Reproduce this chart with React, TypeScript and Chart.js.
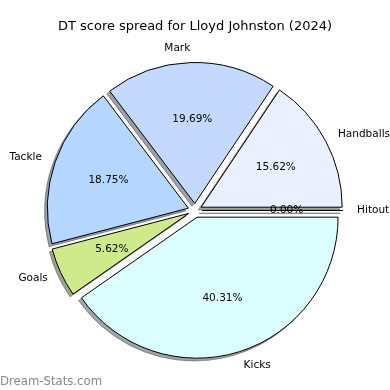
import React, { useEffect, useRef } from "react";
import { Chart, registerables } from "chart.js";

Chart.register(...registerables);

const TITLE = "DT score spread for Lloyd Johnston (2024)";
const WATERMARK = "Dream-Stats.com";
// counter-clockwise order starting at 3 o'clock (as in the picture)
const categories = ["Handballs", "Mark", "Tackle", "Goals", "Kicks", "Hitout"];
const dtPoints = [50, 63, 60, 18, 129, 0];
const sliceColors = ["#EAF0FF", "#C5D9FF", "#B4D6FF", "#CFEA8A", "#DBFFFF", "#FFE4C4"];

const FONT = '"DejaVu Sans", Verdana, sans-serif';
const EXPLODE = 7;
const SHADOW = 2.8;

function pctText(v: number, total: number): string {
  const x = (v / total) * 10000;
  const f = Math.floor(x + 1e-9);
  const diff = x - f;
  let r: number;
  if (Math.abs(diff - 0.5) < 1e-7) r = f % 2 === 0 ? f : f + 1;
  else r = Math.round(x);
  return (r / 100).toFixed(2) + "%";
}

function shadowColor(hex: string): string {
  const h = hex.replace("#", "");
  const r = parseInt(h.slice(0, 2), 16);
  const g = parseInt(h.slice(2, 4), 16);
  const b = parseInt(h.slice(4, 6), 16);
  return `rgba(${Math.round(r * 0.3)},${Math.round(g * 0.3)},${Math.round(b * 0.3)},0.5)`;
}

function geometry(chart: any) {
  const meta = chart.getDatasetMeta(0);
  return meta.data.map((arc: any) => {
    const p = arc.getProps(["x", "y", "startAngle", "endAngle", "outerRadius", "circumference"], true);
    const mid = (p.startAngle + p.endAngle) / 2;
    return { arc, ...p, mid, dx: Math.cos(mid) * EXPLODE, dy: Math.sin(mid) * EXPLODE };
  });
}

const pieDecor = {
  id: "pieDecor",
  beforeDatasetsDraw(chart: any) {
    const ctx = chart.ctx as CanvasRenderingContext2D;
    const ds = chart.data.datasets[0];
    const geo = geometry(chart);
    // shadows
    geo.forEach((g: any, i: number) => {
      const col = shadowColor(ds.backgroundColor[i]);
      ctx.save();
      ctx.translate(g.dx - SHADOW, g.dy + SHADOW);
      ctx.beginPath();
      ctx.moveTo(g.x, g.y);
      ctx.arc(g.x, g.y, g.outerRadius, g.startAngle, g.endAngle);
      ctx.closePath();
      ctx.fillStyle = col;
      ctx.fill();
      ctx.strokeStyle = col;
      ctx.lineWidth = 1;
      ctx.stroke();
      ctx.restore();
    });
    // wedges
    geo.forEach((g: any) => {
      ctx.save();
      ctx.translate(g.dx, g.dy);
      if (g.circumference > 0) {
        g.arc.draw(ctx);
      } else {
        ctx.beginPath();
        ctx.moveTo(g.x, g.y);
        ctx.lineTo(g.x + Math.cos(g.startAngle) * g.outerRadius, g.y + Math.sin(g.startAngle) * g.outerRadius);
        ctx.strokeStyle = "#000";
        ctx.lineWidth = 1;
        ctx.stroke();
      }
      ctx.restore();
    });
    return false;
  },
  afterDraw(chart: any) {
    const ctx = chart.ctx as CanvasRenderingContext2D;
    const ds = chart.data.datasets[0];
    const labels = chart.data.labels;
    const total = ds.data.reduce((a: number, b: number) => a + b, 0);
    const geo = geometry(chart);
    ctx.save();
    ctx.fillStyle = "#000";
    ctx.textBaseline = "alphabetic";
    ctx.font = `10.5px ${FONT}`;
    geo.forEach((g: any, i: number) => {
      const c = Math.cos(g.mid);
      const s = Math.sin(g.mid);
      const vx = g.x + g.dx;
      const vy = g.y + g.dy;
      const lx = vx + 1.1 * g.outerRadius * c;
      const ly = vy + 1.1 * g.outerRadius * s;
      ctx.textAlign = c > 1e-9 ? "left" : "right";
      ctx.fillText(labels[i], lx, ly + 2.8);
      const px = vx + 0.6 * g.outerRadius * c;
      const py = vy + 0.6 * g.outerRadius * s;
      ctx.textAlign = "center";
      ctx.fillText(pctText(ds.data[i], total), px, py + 2.8);
    });
    // title
    ctx.font = `13px ${FONT}`;
    ctx.textAlign = "center";
    ctx.fillText(TITLE, 195, 29.5);
    // watermark
    ctx.font = `11.7px ${FONT}`;
    ctx.fillStyle = "#888888";
    ctx.textAlign = "left";
    ctx.fillText(WATERMARK, 0, 385);
    ctx.restore();
  },
};

export default function App() {
  const ref = useRef<HTMLCanvasElement | null>(null);
  useEffect(() => {
    if (!ref.current) return;
    // Chart.js draws clockwise, so feed the counter-clockwise order reversed
    const order = categories.map((_, i) => i).reverse();
    const chart = new Chart(ref.current, {
      type: "pie",
      data: {
        labels: order.map((i) => categories[i]),
        datasets: [
          {
            data: order.map((i) => dtPoints[i]),
            backgroundColor: order.map((i) => sliceColors[i]),
            borderColor: "#000",
            borderWidth: 1,
            borderJoinStyle: "miter",
          } as any,
        ],
      },
      plugins: [pieDecor],
      options: {
        responsive: false,
        animation: false,
        events: [],
        rotation: 90,
        layout: { padding: { left: 53.5, right: 53.5, top: 69, bottom: 38 } },
        plugins: {
          legend: { display: false },
          title: { display: false },
          tooltip: { enabled: false },
        },
      },
    });
    return () => chart.destroy();
  }, []);
  return (
    <div style={{ position: "absolute", left: 0, top: 0, width: 390, height: 390, background: "#fff" }}>
      <canvas ref={ref} width={390} height={390} style={{ display: "block" }} />
    </div>
  );
}
